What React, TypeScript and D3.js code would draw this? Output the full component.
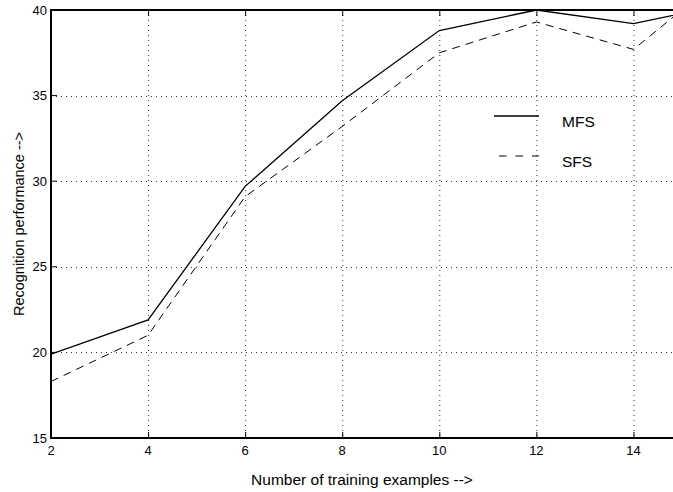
import React, { useEffect, useRef } from 'react';
import * as d3 from 'd3';

// training examples (x) and recognition performance for each method
const examples = [2, 4, 6, 8, 10, 12, 14, 15];
const mfsValues = [19.9, 21.9, 29.7, 34.7, 38.8, 40.0, 39.2, 39.8];
const sfsValues = [18.3, 21.0, 29.1, 33.2, 37.5, 39.3, 37.7, 40.0];
const xTicks = [2, 4, 6, 8, 10, 12, 14];
const yTicks = [15, 20, 25, 30, 35, 40];
const seriesNames = ['MFS', 'SFS'];

const W = 673;
const H = 492;

const App = () => {
  const svgRef = useRef<SVGSVGElement | null>(null);

  useEffect(() => {
    if (!svgRef.current) return;
    const svg = d3.select(svgRef.current);
    svg.selectAll('*').remove();

    const margin = { top: 10, left: 51, bottom: 54 };
    const plotRight = 682; // axis runs past the visible edge
    const plotBottom = H - margin.bottom;

    const x = d3.scaleLinear().domain([2, 15]).range([margin.left, plotRight]);
    const y = d3.scaleLinear().domain([15, 40]).range([plotBottom, margin.top]);

    const font = 'Liberation Sans, Arial, sans-serif';

    // grid
    const grid = svg.append('g').attr('stroke', '#333').attr('stroke-width', 1)
      .attr('stroke-dasharray', '1,4');
    xTicks.slice(1).forEach(t => {
      grid.append('line')
        .attr('x1', x(t) + 0.5).attr('x2', x(t) + 0.5)
        .attr('y1', margin.top).attr('y2', plotBottom);
    });
    yTicks.slice(1, -1).forEach(t => {
      grid.append('line')
        .attr('x1', margin.left).attr('x2', plotRight)
        .attr('y1', Math.round(y(t)) + 0.5).attr('y2', Math.round(y(t)) + 0.5);
    });

    // frame
    svg.append('rect')
      .attr('x', margin.left).attr('y', margin.top)
      .attr('width', plotRight - margin.left).attr('height', plotBottom - margin.top)
      .attr('fill', 'none').attr('stroke', '#000').attr('stroke-width', 2);

    // ticks (inward)
    const ticks = svg.append('g').attr('stroke', '#000').attr('stroke-width', 1);
    xTicks.forEach(t => {
      ticks.append('line').attr('x1', x(t) + 0.5).attr('x2', x(t) + 0.5)
        .attr('y1', plotBottom).attr('y2', plotBottom - 6);
      ticks.append('line').attr('x1', x(t) + 0.5).attr('x2', x(t) + 0.5)
        .attr('y1', margin.top).attr('y2', margin.top + 6);
    });
    yTicks.forEach(t => {
      ticks.append('line').attr('x1', margin.left).attr('x2', margin.left + 6)
        .attr('y1', y(t)).attr('y2', y(t));
    });

    // tick labels
    svg.append('g').selectAll('text').data(xTicks).enter().append('text')
      .attr('x', d => x(d)).attr('y', plotBottom + 17)
      .attr('text-anchor', 'middle')
      .style('font-family', font).style('font-size', '13px')
      .text(d => d);
    svg.append('g').selectAll('text').data(yTicks).enter().append('text')
      .attr('x', margin.left - 4).attr('y', d => y(d) + 4.5)
      .attr('text-anchor', 'end')
      .style('font-family', font).style('font-size', '13px')
      .text(d => d);

    // axis labels
    svg.append('text')
      .attr('x', 362).attr('y', 485)
      .attr('text-anchor', 'middle')
      .style('font-family', font).style('font-size', '15.5px')
      .text('Number of training examples -->');

    svg.append('text')
      .attr('transform', `translate(24, ${(margin.top + plotBottom) / 2}) rotate(-90)`)
      .attr('text-anchor', 'middle')
      .style('font-family', font).style('font-size', '14.5px')
      .text('Recognition performance -->');

    // lines
    const line = d3.line<number>()
      .x((_, i) => x(examples[i]))
      .y(d => y(d));
    const clip = svg.append('defs').append('clipPath').attr('id', 'plot-clip');
    clip.append('rect').attr('x', margin.left).attr('y', margin.top - 2)
      .attr('width', plotRight - margin.left).attr('height', plotBottom - margin.top + 2);

    const plot = svg.append('g').attr('clip-path', 'url(#plot-clip)');
    plot.append('path').datum(mfsValues)
      .attr('fill', 'none').attr('stroke', '#000').attr('stroke-width', 1.3)
      .attr('d', line);
    plot.append('path').datum(sfsValues)
      .attr('fill', 'none').attr('stroke', '#000').attr('stroke-width', 1)
      .attr('stroke-dasharray', '8,6')
      .attr('d', line);

    // legend
    const legend = svg.append('g');
    seriesNames.forEach((name, i) => {
      const ly = 116 + i * 40;
      legend.append('line')
        .attr('x1', i === 0 ? 494 : 499).attr('x2', 539).attr('y1', ly).attr('y2', ly)
        .attr('stroke', '#000').attr('stroke-width', i === 0 ? 1.3 : 1)
        .attr('stroke-dasharray', i === 0 ? null : '7.5,9');
      legend.append('text')
        .attr('x', 562).attr('y', ly + 11)
        .style('font-family', font).style('font-size', '15.5px')
        .text(name);
    });
  }, []);

  return (
    <div style={{ position: 'absolute', left: 0, top: 0, width: W, height: H, overflow: 'hidden', background: '#fff' }}>
      <svg ref={svgRef} width={W} height={H} style={{ display: 'block' }} />
    </div>
  );
};

export default App;
